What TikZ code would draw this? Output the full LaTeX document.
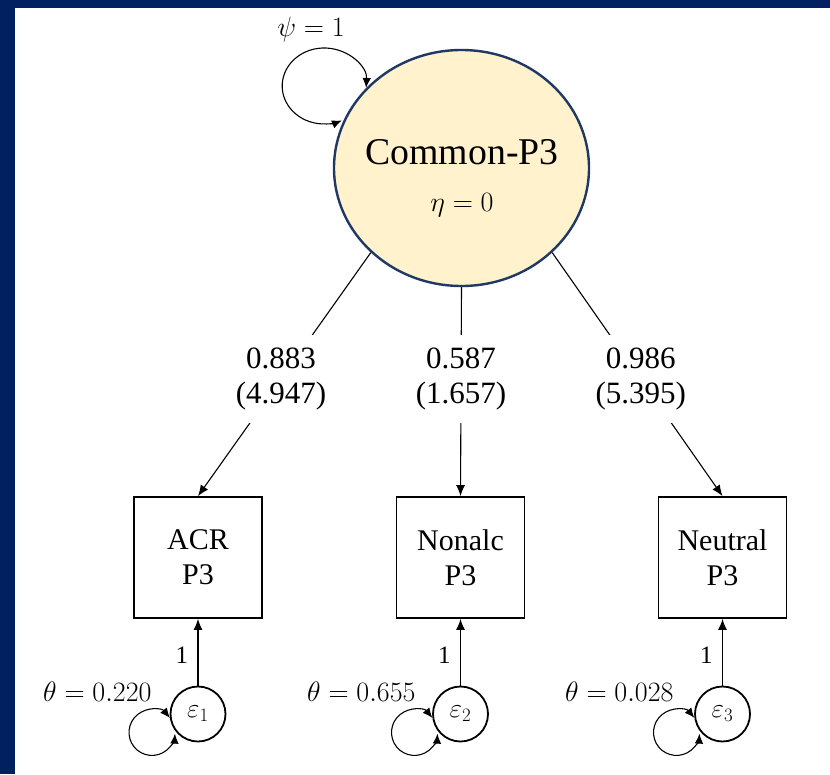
\RequirePackage{fix-cm}
\documentclass[tikz,border=0pt]{standalone}
\usepackage{fontspec}
\setmainfont{Liberation Serif}
\usetikzlibrary{arrows.meta, positioning, shapes.geometric}
\definecolor{frameNavy}{RGB}{0, 32, 96}
\definecolor{latentEdge}{RGB}{31, 56, 100}
\definecolor{latentFill}{RGB}{255, 242, 204}
\tikzset{
    latent/.style={ellipse, draw=latentEdge, fill=latentFill, line width=2.4pt,
        minimum width=255pt, minimum height=236pt, inner sep=0pt},
    observed/.style={rectangle, draw, line width=1.8pt, minimum width=128pt,
        minimum height=121pt, align=center, font=\fontsize{30}{35}\selectfont},
    residual/.style={circle, draw, line width=1.8pt, minimum size=55pt,
        inner sep=0pt, font=\fontsize{27}{30}\selectfont},
    loading/.style={fill=white, inner xsep=3pt, inner ysep=13pt, align=center,
        font=\fontsize{31}{35}\selectfont},
    param/.style={font=\fontsize{28}{32}\selectfont},
    fixed/.style={font=\fontsize{25}{30}\selectfont},
    link/.style={line width=1.1pt},
    arrowlink/.style={link, -{Latex[length=11pt,width=9pt]}},
    varloop/.style={link, {Latex[length=10pt,width=8.5pt]}-{Latex[length=10pt,width=8.5pt]}}
}

\begin{document}
\begin{tikzpicture}[x=1pt, y=1pt]
    % Background with the navy frame on the left and top
    \fill[white] (0,0) rectangle (830,-774);
    \fill[frameNavy] (0,0) rectangle (830,-8);
    \fill[frameNavy] (0,0) rectangle (15,-774);
    \useasboundingbox (0,0) rectangle (830,-774);

    % Latent factor
    \node[latent] (common) at (461.5,-168) {};
    \node[font=\fontsize{37.8}{40}\selectfont] (commonName) at (462,-152) {Common-P3};
    \node[param] (eta) at (462,-205) {$\eta = 0$};
    \node[param] (psi) at (311,-29) {$\psi = 1$};
    \draw[varloop] (common.140) arc[start angle=-3, end angle=295, x radius=42, y radius=38];

    % Observed indicators
    \node[observed] (acr) at (198,-557.5) {ACR\\P3};
    \node[observed] (nonalc) at (460.5,-557.5) {Nonalc\\P3};
    \node[observed] (neutral) at (722.5,-557.5) {Neutral\\P3};

    % Loadings
    \draw[arrowlink] (common.223) -- node[loading, pos=.52] {0.883\\(4.947)} (acr.north);
    \draw[arrowlink] (common.south) -- node[loading, pos=.44] {0.587\\(1.657)} (nonalc.north);
    \draw[arrowlink] (common.317) -- node[loading, pos=.52] {0.986\\(5.395)} (neutral.north);

    % Residuals
    \node[residual] (e1) at (198,-714) {$\varepsilon_1$};
    \node[residual] (e2) at (460.5,-714) {$\varepsilon_2$};
    \node[residual] (e3) at (722.5,-714) {$\varepsilon_3$};
    \node[param, anchor=east] (theta1) at (155,-692) {$\theta = 0.220$};
    \node[param, anchor=east] (theta2) at (419,-692) {$\theta = 0.655$};
    \node[param, anchor=east] (theta3) at (677,-692) {$\theta = 0.028$};

    \draw[arrowlink] (e1) -- node[fixed, left=6pt, pos=.45] {1} (acr);
    \draw[arrowlink] (e2) -- node[fixed, left=6pt, pos=.45] {1} (nonalc);
    \draw[arrowlink] (e3) -- node[fixed, left=6pt, pos=.45] {1} (neutral);

    \draw[varloop] (e1.188) arc[start angle=39, end angle=357, radius=23];
    \draw[varloop] (e2.188) arc[start angle=39, end angle=357, radius=23];
    \draw[varloop] (e3.188) arc[start angle=39, end angle=357, radius=23];
\end{tikzpicture}
\end{document}
